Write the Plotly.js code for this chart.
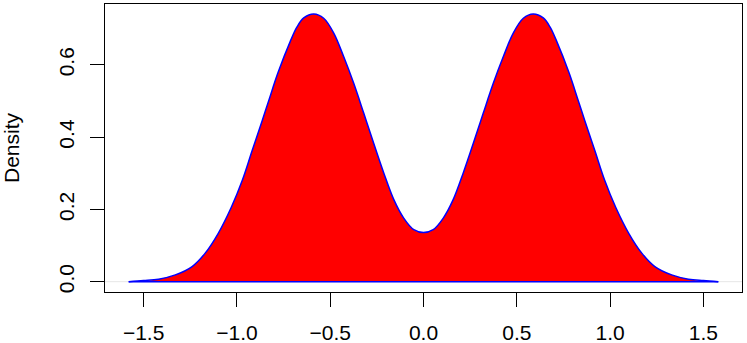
<!DOCTYPE html>
<html>
<head>
<meta charset="utf-8">
<script src="https://cdn.plot.ly/plotly-3.0.1.min.js"></script>
<style>
  html, body { margin: 0; padding: 0; background: #fff; }
  #chart { width: 747px; height: 343px; }
</style>
</head>
<body>
<div id="chart"></div>
<script>
// density curve (left hump, right hump mirrors it)
const xs = [-1.58, -1.50, -1.42, -1.33, -1.24, -1.17, -1.10, -1.03, -0.97, -0.92, -0.865, -0.83, -0.78, -0.714, -0.678, -0.642, -0.588,
  -0.535, -0.481, -0.428, -0.374, -0.320, -0.267, -0.213, -0.159, -0.106, -0.052, 0.0,
  0.052, 0.106, 0.159, 0.213, 0.267, 0.320, 0.374, 0.428, 0.481, 0.535,
  0.588, 0.642, 0.678, 0.714, 0.78, 0.83, 0.865, 0.92, 0.97, 1.03, 1.10, 1.17, 1.24, 1.33, 1.42, 1.50, 1.58];
const density = [0.000, 0.003, 0.007, 0.019, 0.042, 0.079, 0.134, 0.206, 0.282, 0.360, 0.445, 0.500, 0.578, 0.665, 0.705, 0.730, 0.741,
  0.729, 0.688, 0.623, 0.549, 0.466, 0.383, 0.301, 0.227, 0.176, 0.144, 0.136,
  0.144, 0.176, 0.227, 0.301, 0.383, 0.466, 0.549, 0.623, 0.688, 0.729,
  0.741, 0.730, 0.705, 0.665, 0.578, 0.500, 0.445, 0.360, 0.282, 0.206, 0.134, 0.079, 0.042, 0.019, 0.007, 0.003, 0.000];

const xTicks = [-1.5, -1.0, -0.5, 0.0, 0.5, 1.0, 1.5];
const xTickText = ['\u22121.5', '\u22121.0', '\u22120.5', '0.0', '0.5', '1.0', '1.5'];
const yTicks = [0.0, 0.2, 0.4, 0.6];
const yTickText = ['0.0', '0.2', '0.4', '0.6'];

const font = { family: 'Liberation Sans, Arial, sans-serif', size: 21, color: '#000' };

const traces = [
  {
    x: xs,
    y: density,
    mode: 'lines',
    fill: 'tozeroy',
    fillcolor: '#ff0000',
    line: { color: '#0000ff', width: 1.5, shape: 'spline', smoothing: 1 },
    hoverinfo: 'skip',
  },
  {
    x: [xs[0], xs[xs.length - 1]],
    y: [0, 0],
    mode: 'lines',
    line: { color: '#0000ff', width: 1.5 },
    hoverinfo: 'skip',
  },
];

const layout = {
  width: 747,
  height: 343,
  margin: { l: 105, r: 5, t: 4, b: 51 },
  paper_bgcolor: '#fff',
  plot_bgcolor: '#fff',
  showlegend: false,
  font,
  xaxis: {
    range: [-1.707, 1.707],
    tickvals: xTicks,
    ticktext: xTickText,
    ticks: 'outside',
    ticklen: 14,
    tickwidth: 1,
    tickcolor: '#000',
    showline: true,
    linecolor: '#000',
    linewidth: 1,
    mirror: true,
    showgrid: false,
    zeroline: false,
    ticklabelstandoff: 8,
  },
  yaxis: {
    range: [-0.0285, 0.7685],
    tickvals: yTicks,
    ticktext: yTickText,
    tickangle: -90,
    ticks: 'outside',
    ticklen: 14,
    tickwidth: 1,
    tickcolor: '#000',
    showline: true,
    linecolor: '#000',
    linewidth: 1,
    mirror: true,
    showgrid: false,
    zeroline: false,
    ticklabelstandoff: 8,
    title: { text: 'Density', font, standoff: 35 },
  },
  shapes: [
    {
      type: 'line', xref: 'paper', yref: 'y', x0: 0, x1: 1, y0: 0, y1: 0,
      line: { color: '#e6e6e6', width: 1 }, layer: 'below',
    },
  ],
};

Plotly.newPlot('chart', traces, layout, { staticPlot: true });
</script>
</body>
</html>
